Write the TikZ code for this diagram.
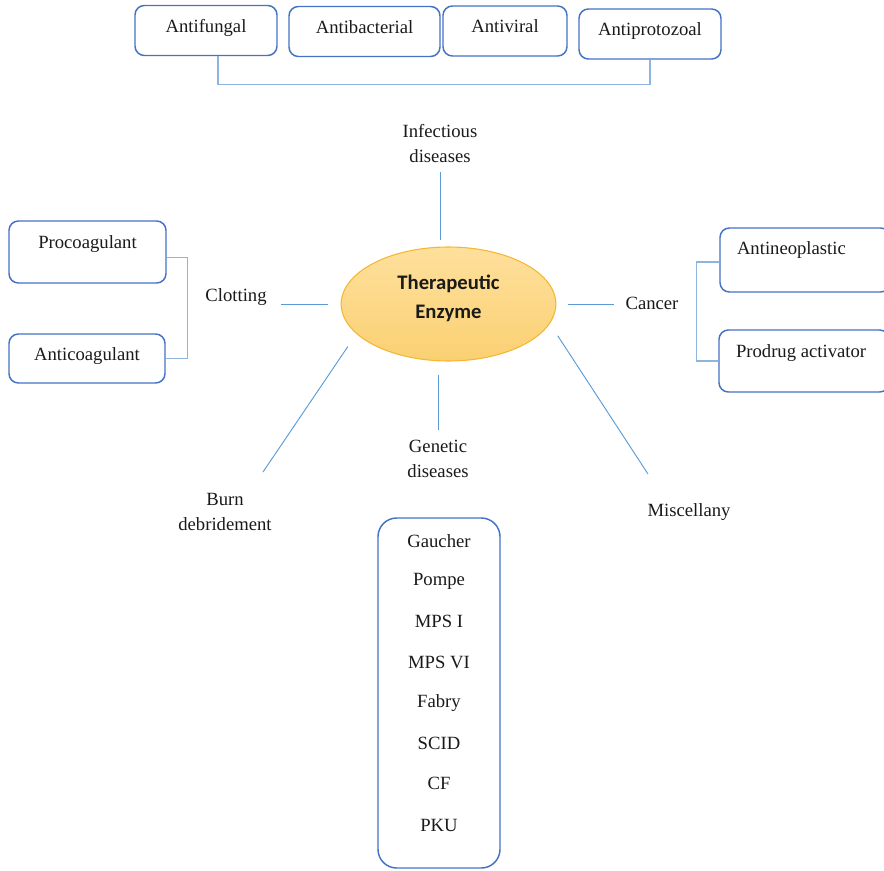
\documentclass[tikz,border=0pt]{standalone}
\usepackage{fontspec}
\setmainfont{Liberation Serif}
\newfontfamily\calibrifont{Carlito}
\usepackage{xcolor}
\usepackage{tikz}
\usetikzlibrary{shapes.geometric}
\definecolor{boxblue}{RGB}{68,114,196}
\definecolor{lineblue}{RGB}{91,155,213}
\definecolor{bracketblue}{RGB}{143,180,222}
\definecolor{enzborder}{RGB}{244,183,49}
\definecolor{enztop}{RGB}{254,224,156}
\definecolor{enzbottom}{RGB}{251,208,115}
\definecolor{darktext}{RGB}{26,26,26}
\tikzset{
  box/.style    ={rectangle, rounded corners=7pt, draw=boxblue, line width=1.1pt, align=center,
                  text=darktext, text height=9pt, text depth=6.5pt, inner sep=2pt, minimum height=37.5pt},
  wbox/.style   ={box, align=flush left, inner xsep=12.75pt, text width=102pt},
  listbox/.style={rectangle, rounded corners=14pt, draw=boxblue, line width=1.1pt,
                  minimum width=91.5pt, minimum height=262.5pt},
  enzyme/.style ={ellipse, draw=enzborder, line width=0.8pt, top color=enztop, bottom color=enzbottom,
                  minimum width=161pt, minimum height=85.5pt, align=center, text=darktext,
                  text height=30pt, text depth=7.6pt,
                  font=\calibrifont\bfseries\fontsize{15.5}{21.75}\selectfont},
  lbl/.style    ={align=center, inner sep=1pt, text=darktext},
  link/.style   ={draw=lineblue, line width=0.7pt},
  brace/.style  ={draw=bracketblue, line width=0.9pt}
}
\begin{document}
\begin{tikzpicture}[x=0.75pt, y=-0.75pt, font=\fontsize{14}{18.75}\selectfont]
\useasboundingbox (0,0) rectangle (884,870);
% Centre
\node[enzyme] (enz) at (448.5,304) {Therapeutic\\Enzyme};
% Infectious diseases
\foreach \id/\x/\y/\w/\name in {afun/206/30.5/106.5/Antifungal, abac/364.5/31.5/113.25/Antibacterial,
                                avir/505/31/93/Antiviral, apro/650/34/106.5/Antiprotozoal}{
  \node[box, minimum width=\w pt] (\id) at (\x,\y) {\name};
}
\draw[brace] ([xshift=9pt]afun.south) -- ++(0,28) -| (apro.south);
\node[lbl] (inf) at (440,143.5) {Infectious\\diseases};
\draw[link, shorten <=5pt, shorten >=6pt] (enz.north -| inf) -- (inf.south);
% Clotting
\node[box, minimum width=117.75pt, minimum height=46.5pt, text depth=14pt] (proc) at (87.5,252) {Procoagulant};
\node[box, minimum width=117pt, minimum height=36.75pt, text depth=5.7pt] (anti) at (87,358.5) {Anticoagulant};
\draw[brace] ([yshift=-4pt]proc.east) -- ++(21,0) |- (anti.east);
\node[lbl] (clot) at (236,297) {Clotting};
\draw[link, shorten <=9.5pt, shorten >=9.5pt] (clot.east |- enz) -- (enz.west);
% Cancer
\node[wbox, minimum height=48pt, text depth=17pt] (aneo) at (805,260) {Antineoplastic};
\node[wbox, minimum height=46.5pt, text depth=14pt] (prod) at (804,361) {Prodrug activator};
\draw[brace] ([yshift=-1.5pt]aneo.west) -- ++(-23,0) |- (prod.west);
\node[lbl] (canc) at (652,303) {Cancer};
\draw[link, shorten <=9pt, shorten >=7.3pt] (enz.east) -- (canc.west |- enz.east);
% Genetic diseases
\node[lbl] (gen) at (438,458.5) {Genetic\\diseases};
\draw[link, shorten <=9.75pt, shorten >=6pt] (gen.north |- enz.south) -- (gen.north);
\node[listbox] (genes) at (439,693) {};
\foreach \y/\name in {541/Gaucher, 581/Pompe, 621/MPS I, 662/MPS VI, 703/Fabry, 743/SCID, 783/CF, 825/PKU}{
  \node[lbl] (g\y) at (439,\y) {\name};
}
% Burn debridement and miscellany
\node[lbl] (burn) at (225,511.5) {Burn\\debridement};
\coordinate (burnend) at (263,472);
\draw[link, shorten <=11.4pt] (enz.198) -- (burnend);
\node[lbl] (misc) at (689,512) {Miscellany};
\coordinate (miscend) at (648,474);
\draw[link, shorten <=10.8pt] (enz.-11) -- (miscend);
\end{tikzpicture}
\end{document}
